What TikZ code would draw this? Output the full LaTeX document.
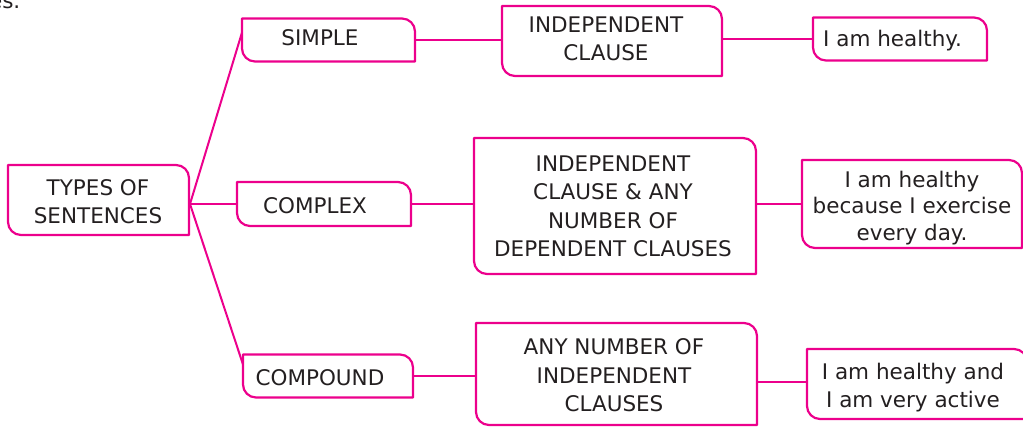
\documentclass[tikz,border=0pt]{standalone}
\usepackage{fontspec}
\setmainfont{DejaVu Sans}
\definecolor{mag}{HTML}{EC008C}
\definecolor{txt}{HTML}{231F20}
\newcommand\boxrad{13pt}
\newcommand\pinkbox[1]{\draw[boxline] (#1.north west) -- ([xshift=-\boxrad]#1.north east) arc[start angle=90,end angle=0,radius=\boxrad] -- (#1.south east) -- ([xshift=\boxrad]#1.south west) arc[start angle=270,end angle=180,radius=\boxrad] -- cycle;}
\begin{document}
\begin{tikzpicture}[x=1pt,y=1pt,
  frame/.style={draw=none,inner sep=0pt,outer sep=0pt},
  boxline/.style={draw=mag,line width=2.2pt,line join=round},
  conn/.style={draw=mag,line width=2pt},
  lbl/.style={inner sep=0pt,text=txt,align=center,font=\fontsize{21.5}{28.5}\selectfont}]
\useasboundingbox (0,0) rectangle (1023,426);
% top-left fragment
\node[lbl,anchor=base east] (frag) at (20.5,417) {es.};
% boxes
\node[frame,minimum width=181pt,minimum height=70pt] (types) at (98.5,226) {};
\node[frame,minimum width=173pt,minimum height=43pt] (simple) at (328.5,386) {};
\node[frame,minimum width=174pt,minimum height=44pt] (complex) at (324,222) {};
\node[frame,minimum width=170pt,minimum height=43pt] (compound) at (328,50) {};
\node[frame,minimum width=220pt,minimum height=70pt] (ind) at (612,385) {};
\node[frame,minimum width=282pt,minimum height=136pt] (cmid) at (615,220) {};
\node[frame,minimum width=281pt,minimum height=102pt] (pmid) at (616.5,52) {};
\node[frame,minimum width=174pt,minimum height=43pt] (ex1) at (900,387) {};
\node[frame,minimum width=220pt,minimum height=88pt] (ex2) at (912,222) {};
\node[frame,minimum width=220pt,minimum height=70pt] (ex3) at (917,42) {};
\foreach \b in {types,simple,complex,compound,ind,cmid,pmid,ex1,ex2,ex3} {\pinkbox{\b}}
% texts
\node[lbl] (typesT) at (98,224.5) {TYPES OF\\SENTENCES};
\node[lbl] (simpleT) at (320,388.5) {SIMPLE};
\node[lbl] (complexT) at (315,220) {COMPLEX};
\node[lbl] (compoundT) at (320,48.5) {COMPOUND};
\node[lbl] (indT) at (606,387) {INDEPENDENT\\CLAUSE};
\node[lbl] (cmidT) at (613,219.5) {INDEPENDENT\\CLAUSE \& ANY\\NUMBER OF\\DEPENDENT CLAUSES};
\node[lbl] (pmidT) at (614,50.5) {ANY NUMBER OF\\INDEPENDENT\\CLAUSES};
\node[lbl,anchor=base west] (ex1T) at (823,379) {I am healthy.};
\node[lbl,font=\fontsize{21.5}{26.5}\selectfont] (ex2T) at (912,218) {I am healthy\\because I exercise\\every day.};
\node[lbl,font=\fontsize{21.5}{28}\selectfont] (ex3T) at (913,38.5) {I am healthy and\\I am very active};
% connectors
\coordinate (fan) at (190,222);
\draw[conn] (fan) -- ([yshift=-14pt]simple.north west);
\draw[conn] (fan) -- (fan -| complex.west);
\draw[conn] (fan) -- ([yshift=-10pt]compound.north west);
\draw[conn] (simple.east) -- (simple.east -| ind.west);
\draw[conn] (ind.east |- ex1.west) -- (ex1.west);
\draw[conn] (complex.east) -- (complex.east -| cmid.west);
\draw[conn] (cmid.east |- ex2.west) -- (ex2.west);
\draw[conn] (compound.east) -- (compound.east -| pmid.west);
\draw[conn] ([yshift=2pt]ex3.west -| pmid.east) -- ([yshift=2pt]ex3.west);
\end{tikzpicture}
\end{document}
